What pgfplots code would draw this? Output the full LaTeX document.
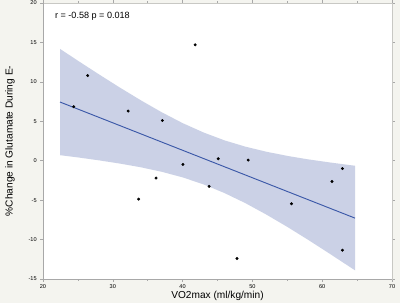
\documentclass[border=0pt]{standalone}
\usepackage{pgfplots}
\pgfplotsset{compat=1.18}
\usepackage{fontspec}
\setmainfont{Liberation Sans}
\definecolor{bgc}{HTML}{F4F4EF}
\definecolor{bandc}{HTML}{CBD1E6}
\definecolor{linec}{HTML}{3B58A8}
\definecolor{axc}{HTML}{A8A8A8}
\definecolor{frc}{HTML}{C8C8C4}
\begin{document}
\begin{tikzpicture}
\fill[bgc] (-32.25pt,-18pt) rectangle (267.75pt,209.25pt);
\begin{axis}[
  at={(0,0)}, anchor=south west,
  scale only axis, width=261.75pt, height=207pt,
  xmin=20, xmax=70, ymin=-15, ymax=20,
  xtick={20,30,...,70}, ytick={-15,-10,...,20},
  minor x tick num=1,
  tick align=outside, major tick length=2.2pt, minor tick length=1.5pt,
  tick style={axc, line width=0.4pt},
  axis line style={frc, line width=0.5pt},
  axis background/.style={fill=white},
  /pgf/number format/assume math mode=true,
  ticklabel style={font=\fontsize{4.2}{5}\selectfont},
  xticklabel style={yshift=1.2pt},
  yticklabel style={xshift=1pt},
  xlabel={VO2max (ml/kg/min)},
  ylabel={\%Change in Glutamate During E-},
  label style={font=\fontsize{7.6}{9}\selectfont},
  xlabel style={at={(axis description cs:0.5,-0.0616)}, anchor=center},
  ylabel style={at={(axis description cs:-0.0946,0.5)}, anchor=center},
  clip=false,
]
\addplot[fill=bandc, draw=none] coordinates {
(22.44,14.18) (25,12.68) (28,10.96) (31,9.28) (34,7.67) (37,6.15) (40,4.77) (43,3.58) (46,2.58) (49,1.78) (52,1.14) (55,0.61) (58,0.17) (61,-0.21) (64.7,-0.64)
(64.7,-13.90) (61,-11.75) (58,-10.04) (55,-8.39) (52,-6.83) (49,-5.38) (46,-4.10) (43,-3.00) (40,-2.11) (37,-1.40) (34,-0.83) (31,-0.36) (28,0.05) (25,0.42) (22.44,0.70)
} -- cycle;
\addplot[linec, line width=0.7pt] coordinates {(22.44,7.44) (64.7,-7.28)};
\addplot[only marks, mark=*, mark size=0.9pt, black] coordinates {
(24.4,6.85) (26.4,10.8) (32.2,6.3) (37.1,5.1) (41.8,14.7)
(33.7,-4.87) (36.2,-2.2) (40.05,-0.47) (43.8,-3.26) (45.1,0.25)
(49.4,0.08) (47.8,-12.4) (55.6,-5.46) (61.4,-2.63) (62.9,-1.0) (62.9,-11.35)
};
\draw[axc, line width=0.5pt] (rel axis cs:0,1) -- (rel axis cs:0,0) -- (rel axis cs:1,0);
\node[anchor=base west, font=\fontsize{6.8}{8}\selectfont, inner sep=0pt] at (axis description cs:0.034,0.945) {r = -0.58 p = 0.018};
\end{axis}
\pgfresetboundingbox
\path (-32.25pt,-18pt) rectangle (267.75pt,209.25pt);
\end{tikzpicture}
\end{document}
